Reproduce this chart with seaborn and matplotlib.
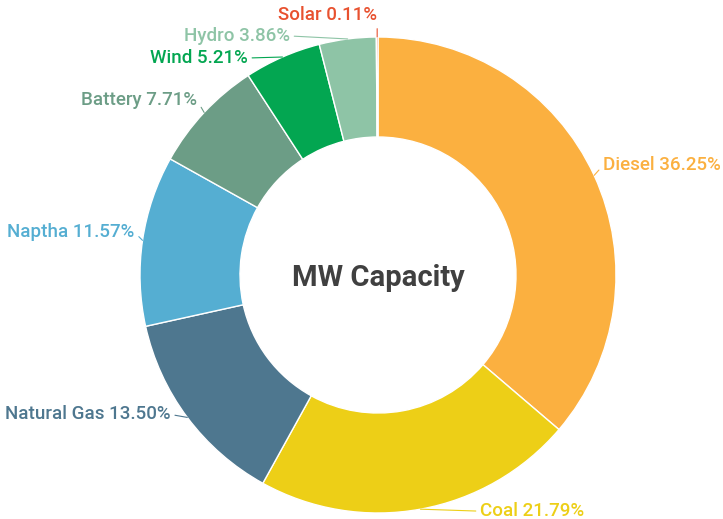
import numpy as np
import matplotlib
matplotlib.use("Agg")
import matplotlib.pyplot as plt
import seaborn as sns

sources = ["Diesel", "Coal", "Natural Gas", "Naptha", "Battery", "Wind", "Hydro", "Solar"]
shares = [36.25, 21.79, 13.50, 11.57, 7.71, 5.21, 3.86, 0.11]
hex_colors = ["#FBB040", "#EDCF17", "#4E778F", "#55AED2", "#6C9D86", "#03A651", "#8EC4A6", "#E8512F"]

sns.set_theme(style="white")
plt.rcParams["font.family"] = ["Roboto", "DejaVu Sans"]
palette = sns.color_palette(hex_colors)

fig = plt.figure(figsize=(7.23, 5.19), dpi=100)
ax = fig.add_axes([0, 0, 1, 1])

cx, cy, R = 378, 244, 238
wedges, _ = ax.pie(shares, colors=palette, startangle=90, counterclock=False,
                   center=(cx, cy), radius=R, frame=True,
                   wedgeprops=dict(width=100, edgecolor="white", linewidth=1))
ax.set_xlim(0, 723)
ax.set_ylim(0, 519)
ax.set_aspect("equal")
ax.axis("off")

# label offsets (pixels) from the outer edge at each slice's mid angle
offsets = {
    "Diesel": (9, 10, "left"),
    "Coal": (60, -2, "left"),
    "Natural Gas": (-17, 3, "right"),
    "Naptha": (-8, 8, "right"),
    "Battery": (-7, 12, "right"),
    "Wind": (-35, -1, "right"),
    "Hydro": (-58, 3, "right"),
    "Solar": (0, 22, "right"),
}

for w, name, val, col in zip(wedges, sources, shares, palette):
    mid = np.deg2rad((w.theta1 + w.theta2) / 2)
    x = cx + R * np.cos(mid)
    y = cy + R * np.sin(mid)
    dx, dy, ha = offsets[name]
    rel = (0, 0.5) if ha == "left" else (1, 0.5)
    if name == "Solar":
        rel = (1, 0)
    ax.annotate(f"{name} {val:.2f}%", xy=(x, y), xytext=(dx, dy),
                textcoords="offset pixels", ha=ha, va="center",
                fontsize=13.5, fontweight="medium", color=col,
                arrowprops=dict(arrowstyle="-", color=col, lw=0.8,
                                shrinkA=1, shrinkB=0, relpos=rel))

ax.text(cx, cy - 3, "MW Capacity", ha="center", va="center", fontsize=21,
        fontweight="semibold", color="#404040")

fig.savefig("out.png", dpi=100)
